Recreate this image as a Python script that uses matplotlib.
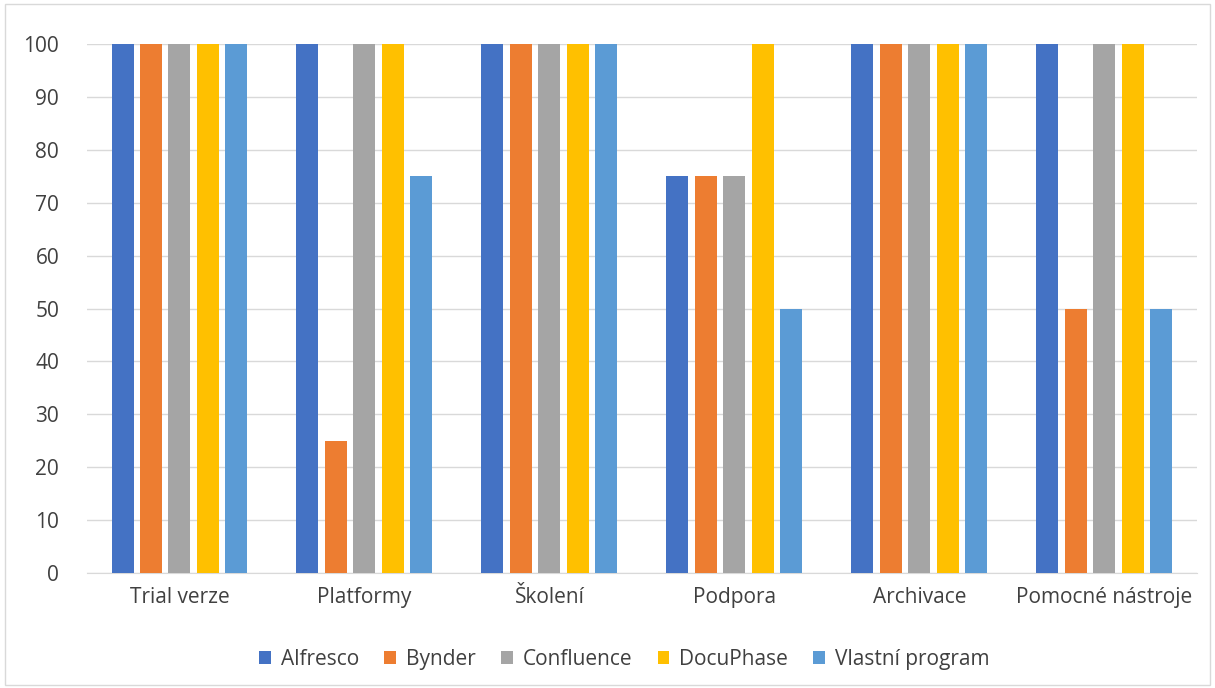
import numpy as np
from matplotlib import pyplot as plt
from matplotlib.patches import Rectangle

categories = ['Trial verze', 'Platformy', 'Školení', 'Podpora', 'Archivace', 'Pomocné nástroje']
series_names = ['Alfresco', 'Bynder', 'Confluence', 'DocuPhase', 'Vlastní program']
alfresco = [100, 100, 100, 75, 100, 100]
bynder = [100, 25, 100, 75, 100, 50]
confluence = [100, 100, 100, 75, 100, 100]
docuphase = [100, 100, 100, 100, 100, 100]
vlastni = [100, 75, 100, 50, 100, 50]
colors = ['#4472C4', '#ED7D31', '#A5A5A5', '#FFC000', '#5B9BD5']

plt.rcParams['font.family'] = ['Open Sans', 'DejaVu Sans']

fig = plt.figure(figsize=(12.15, 6.88), dpi=100)
ax = fig.add_axes([0.0716, 0.167, 0.9134, 0.769])

x = np.arange(len(categories))
width = 0.119
step = 0.154
all_series = [alfresco, bynder, confluence, docuphase, vlastni]
for i, (name, vals) in enumerate(zip(series_names, all_series)):
    ax.bar(x + (i - 2) * step, vals, width, color=colors[i], label=name, zorder=3)

ax.set_xlim(-0.5, len(categories) - 0.5)
ax.set_ylim(0, 100)
ax.set_yticks(range(0, 101, 10))
ax.set_xticks(x)
ax.set_xticklabels(categories)
ax.tick_params(axis='both', length=0, labelsize=15, colors='#404040')
ax.tick_params(axis='y', pad=20)
ax.tick_params(axis='x', pad=10)
ax.yaxis.grid(True, color='#D9D9D9', linewidth=1, zorder=0)
for side in ['top', 'right', 'left']:
    ax.spines[side].set_visible(False)
ax.spines['bottom'].set_color('#D9D9D9')

leg = fig.legend(loc='center', bbox_to_anchor=(0.514, 0.042), ncol=5, frameon=False,
                 fontsize=15, handlelength=0.55, handleheight=0.55, columnspacing=1.2,
                 handletextpad=0.5)
for t in leg.get_texts():
    t.set_color('#404040')

fig.patches.append(Rectangle((0.004, 0.004), 0.992, 0.99, transform=fig.transFigure,
                             fill=False, edgecolor='#D9D9D9', linewidth=1))

fig.savefig('out.png', dpi=100)
